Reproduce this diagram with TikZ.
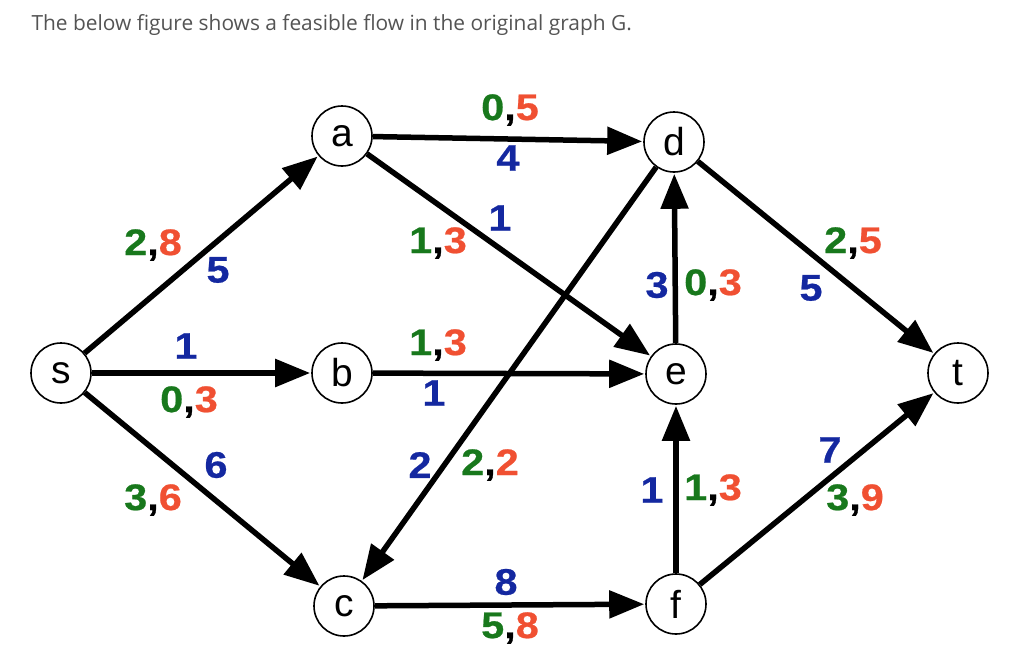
\documentclass[tikz,border=0pt]{standalone}
\usepackage{fontspec}
\setmainfont{Liberation Sans}
\newfontfamily\titlefont{Open Sans}
\newfontfamily\lblfont[FakeStretch=1.12, FakeBold=0.6]{Liberation Sans Bold}
\usetikzlibrary{arrows.meta}
\definecolor{flowgreen}{RGB}{24,120,28}
\definecolor{capred}{RGB}{240,80,50}
\definecolor{costblue}{RGB}{20,40,160}
\newcommand{\fl}[2]{\textcolor{flowgreen}{#1},\textcolor{capred}{#2}}
\tikzstyle{vertex} = [circle, draw=black, line width=1.6pt, minimum size=60pt, inner sep=0pt, font=\fontsize{39}{39}\selectfont, fill=white]
\tikzstyle{arrow} = [line width=5.5pt, -{Triangle[length=35pt,width=27pt]}, shorten >=1pt]
\tikzstyle{lbl} = [font=\lblfont\fontsize{37}{37}\selectfont, inner sep=0pt]
\tikzstyle{cost} = [lbl, text=costblue]

\begin{document}
\begin{tikzpicture}[x=1pt, y=-1pt]
        \useasboundingbox (0,0) rectangle (1036,654);
        \node[anchor=west, text=black!67, font=\titlefont\fontsize{20.9}{20.9}\selectfont] (title) at (28,25) {The below figure shows a feasible flow in the original graph G.};

        \node (s) [vertex] at (61,373) {s};
        \node (a) [vertex] at (342,136) {a};
        \node (b) [vertex] at (342,373) {b};
        \node (c) [vertex] at (344,606) {c};
        \node (d) [vertex] at (674,142) {d};
        \node (e) [vertex] at (676,374) {e};
        \node (f) [vertex] at (676,604) {f};
        \node (t) [vertex] at (958,373) {t};

        \draw [arrow] (s) -- (a);
        \draw [arrow] (s) -- (b);
        \draw [arrow] (s) -- (c);
        \draw [arrow] (a) -- (d);
        \draw [arrow] (a) -- (e);
        \draw [arrow] (b) -- (e);
        \draw [arrow] (d) -- (c);
        \draw [arrow] (c) -- (f);
        \draw [arrow] (e) -- (d);
        \draw [arrow] (f) -- (e);
        \draw [arrow] (d) -- (t);
        \draw [arrow] (f) -- (t);

        % flow,capacity and cost on each edge
        \node (sa1) [lbl] at (153,245) {\fl{2}{8}};
        \node (sa2) [cost] at (218,270) {5};
        \node (sb1) [cost] at (186,346) {1};
        \node (sb2) [lbl] at (189,402) {\fl{0}{3}};
        \node (sc1) [cost] at (216,465) {6};
        \node (sc2) [lbl] at (153,500) {\fl{3}{6}};
        \node (ad1) [lbl] at (510,110) {\fl{0}{5}};
        \node (ad2) [cost] at (508,158) {4};
        \node (ae1) [cost] at (500,218) {1};
        \node (ae2) [lbl] at (438,243) {\fl{1}{3}};
        \node (be1) [lbl] at (438,345) {\fl{1}{3}};
        \node (be2) [cost] at (434,393) {1};
        \node (dc1) [cost] at (420,465) {2};
        \node (dc2) [lbl] at (490,465) {\fl{2}{2}};
        \node (cf1) [cost] at (506,582) {8};
        \node (cf2) [lbl] at (510,628) {\fl{5}{8}};
        \node (ed1) [cost] at (657,285) {3};
        \node (ed2) [lbl] at (713,285) {\fl{0}{3}};
        \node (fe1) [cost] at (652,490) {1};
        \node (fe2) [lbl] at (713,490) {\fl{1}{3}};
        \node (dt1) [lbl] at (853,243) {\fl{2}{5}};
        \node (dt2) [cost] at (811,288) {5};
        \node (ft1) [cost] at (830,450) {7};
        \node (ft2) [lbl] at (855,500) {\fl{3}{9}};
    \end{tikzpicture}
\end{document}
